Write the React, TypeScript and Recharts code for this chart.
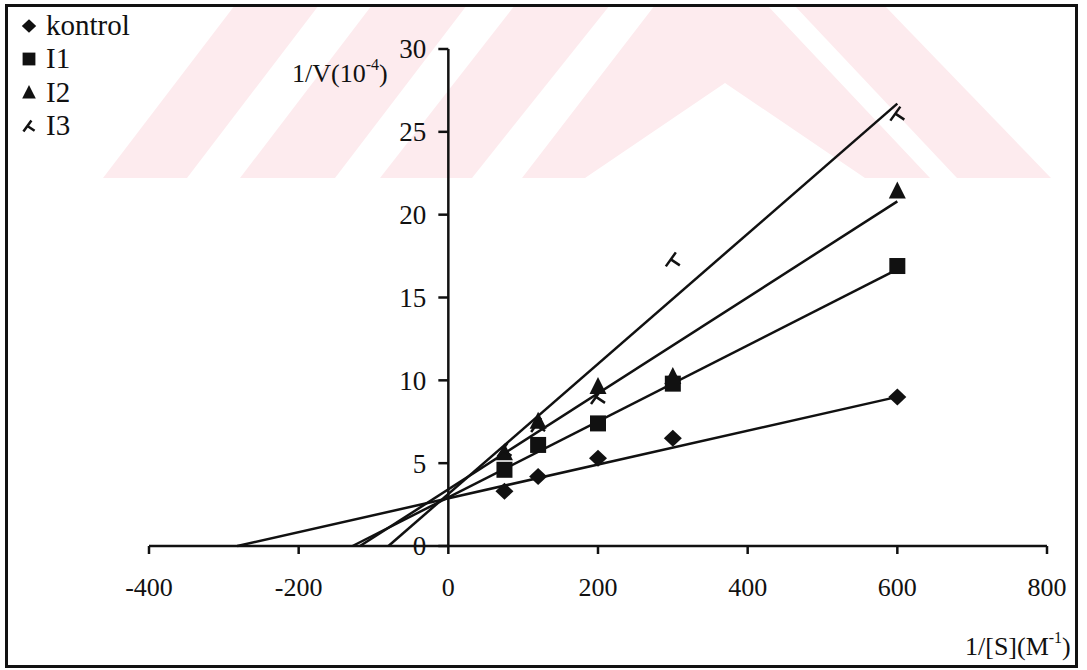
import React from "react";
import { ComposedChart, Scatter, XAxis, YAxis, ReferenceLine, ReferenceDot, Legend } from "recharts";

// 1/[S] values (M^-1)
const substrateInv = [75, 120, 200, 300, 600];

// 1/V values (x10^-4) per series
const kontrolValues = [3.3, 4.2, 5.3, 6.5, 9.0];
const i1Values = [4.6, 6.1, 7.4, 9.8, 16.9];
const i2Values = [5.6, 7.5, 9.6, 10.2, 21.4];
const i3Values = [5.8, 7.3, 9.0, 17.3, 26.1];

const seriesNames = ["kontrol", "I1", "I2", "I3"];

// trend lines: x-intercept, and value at 1/[S] = 600
const fitStartX = [-282, -128, -118, -80];
const fitEndX = 600;
const fitEndY = [9.0, 16.7, 20.8, 26.7];

const xTicks = [-400, -200, 0, 200, 400, 600, 800];
const yTicks = [0, 5, 10, 15, 20, 25, 30];

const W = 1087;
const H = 670;
const FONT = "Liberation Serif, Times New Roman, serif";
const INK = "#111";

const allValues = [kontrolValues, i1Values, i2Values, i3Values];
const pointSets = allValues.map((vals) => substrateInv.map((x, i) => ({ x, y: vals[i] })));
const fitSets = fitStartX.map((x0, k) => [
  { x: x0, y: 0 },
  { x: fitEndX, y: fitEndY[k] },
]);

function Marker({ kind, cx, cy, s = 1 }: { kind: number; cx: number; cy: number; s?: number }) {
  if (kind === 0) {
    return (
      <path
        d={`M${cx},${cy - 8.5 * s} L${cx + 9 * s},${cy} L${cx},${cy + 8.5 * s} L${cx - 9 * s},${cy} Z`}
        fill={INK}
      />
    );
  }
  if (kind === 1) {
    return <rect x={cx - 8 * s} y={cy - 8 * s} width={16 * s} height={16 * s} fill={INK} />;
  }
  if (kind === 2) {
    return (
      <path d={`M${cx},${cy - 10 * s} L${cx + 8.5 * s},${cy + 7 * s} L${cx - 8.5 * s},${cy + 7 * s} Z`} fill={INK} />
    );
  }
  return (
    <path
      d={`M${cx - 7 * s},${cy + 7 * s} L${cx + 3 * s},${cy - 7 * s} M${cx - 2 * s},${cy} L${cx + 7 * s},${cy + 6 * s}`}
      stroke={INK}
      strokeWidth={2.5}
      fill="none"
    />
  );
}

function LegendBox() {
  const baselines = [35, 68, 102, 135];
  return (
    <svg width={170} height={150} style={{ display: "block" }}>
      {seriesNames.map((name, k) => (
        <g key={name}>
          <Marker kind={k} cx={29} cy={baselines[k] - 9} s={0.8} />
          <text x={46} y={baselines[k]} style={{ fontFamily: FONT }} fontSize={29} fill={INK}>
            {name}
          </text>
        </g>
      ))}
    </svg>
  );
}

// faint watermark from the scanned page
const watermark = [
  "103,178 187,178 319,5 235,5",
  "240,178 335,178 467,5 372,5",
  "380,178 472,178 610,5 515,5",
  "522,178 585,178 725,83 865,178 930,178 767,5 655,5",
  "794,5 884,5 1051,178 957,178",
];

export default function App() {
  return (
    <div style={{ position: "absolute", left: 0, top: 0, width: W, height: H, background: "#fff" }}>
      <svg width={W} height={H} style={{ position: "absolute", left: 0, top: 0 }}>
        {watermark.map((pts, i) => (
          <polygon key={i} points={pts} fill="#fdebee" />
        ))}
      </svg>

      <div style={{ position: "absolute", left: 0, top: 0 }}>
        <ComposedChart width={W} height={H} margin={{ top: 49, right: 40, left: 149, bottom: 64 }}>
          <XAxis
            type="number"
            dataKey="x"
            domain={[-400, 800]}
            ticks={xTicks}
            interval={0}
            height={60}
            tickSize={8}
            tickMargin={24}
            axisLine={{ stroke: INK, strokeWidth: 2.5 }}
            tickLine={{ stroke: INK, strokeWidth: 2.5 }}
            tick={{ fill: INK, fontSize: 26, style: { fontFamily: FONT } }}
          />
          <YAxis type="number" dataKey="y" domain={[0, 30]} ticks={yTicks} hide width={0} />

          <ReferenceLine x={0} stroke={INK} strokeWidth={2.5} />
          {yTicks.map((v) => (
            <ReferenceDot
              key={v}
              x={0}
              y={v}
              r={1}
              shape={(p: any) => (
                <g>
                  <line x1={p.cx - 10} x2={p.cx} y1={p.cy} y2={p.cy} stroke={INK} strokeWidth={2.5} />
                  <text
                    x={p.cx - 22}
                    y={p.cy}
                    dy="0.35em"
                    textAnchor="end"
                    style={{ fontFamily: FONT }}
                    fontSize={27}
                    fill={INK}
                  >
                    {v}
                  </text>
                </g>
              )}
            />
          ))}

          {fitSets.map((fit, k) => (
            <Scatter
              key={"fit" + k}
              name={seriesNames[k] + " fit"}
              data={fit}
              line={{ stroke: INK, strokeWidth: 2.5 }}
              shape={() => <g />}
              legendType="none"
              isAnimationActive={false}
            />
          ))}
          {pointSets.map((pts, k) => (
            <Scatter
              key={seriesNames[k]}
              name={seriesNames[k]}
              data={pts}
              shape={(p: any) => <Marker kind={k} cx={p.cx} cy={p.cy} />}
              isAnimationActive={false}
            />
          ))}

          <Legend
            layout="vertical"
            align="center"
            verticalAlign="middle"
            wrapperStyle={{ left: 0, top: 0, width: 170 }}
            content={() => <LegendBox />}
          />
        </ComposedChart>
      </div>

      <svg width={W} height={H} style={{ position: "absolute", left: 0, top: 0, pointerEvents: "none" }}>
        <text x={292} y={82} style={{ fontFamily: FONT }} fontSize={26} fill={INK}>
          1/V(10
          <tspan fontSize={16} dy={-12}>
            -4
          </tspan>
          <tspan dy={12}>)</tspan>
        </text>
        <text x={965} y={655} style={{ fontFamily: FONT }} fontSize={26} fill={INK}>
          1/[S](M
          <tspan fontSize={16} dy={-12}>
            -1
          </tspan>
          <tspan dy={12}>)</tspan>
        </text>
        <rect x={6.5} y={5.5} width={1070} height={661} fill="none" stroke={INK} strokeWidth={3} />
      </svg>
    </div>
  );
}
